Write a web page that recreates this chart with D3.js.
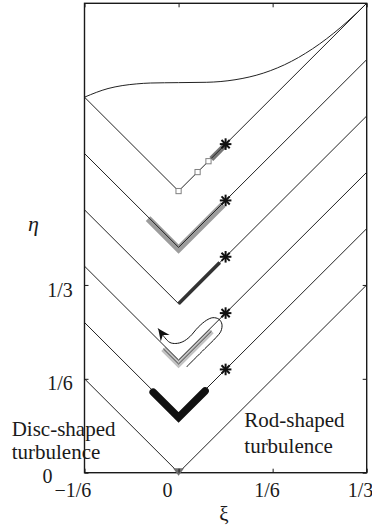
<!DOCTYPE html>
<html><head><meta charset="utf-8">
<script src="https://cdn.jsdelivr.net/npm/d3@7"></script>
<style>
body{margin:0;background:#fff}
text{font-family:"Liberation Serif","Times New Roman",serif;fill:#1a1a1a}
</style>
</head><body>
<svg id="c" width="372" height="530"></svg>
<script>
// ---------------- data ----------------
const xTickValues = [-1/6, 0, 1/6, 1/3];
const xTickLabels = ["\u22121/6", "0", "1/6", "1/3"];
const yTickValues = [0, 1/6, 1/3];
const yTickLabels = ["0", "1/6", "1/3"];

// vertical shift of each stacked anisotropy-invariant map
const panelOffsets = [0, 0.1, 0.2, 0.3, 0.4, 0.5];

// two-component limit (top boundary of the base map), xi / eta
const limitXi  = [-1/6, -0.125, -0.1, -0.075, -0.05, 0, 0.05, 0.1, 0.15, 0.2, 0.25, 0.3, 1/3];
const limitEta = [0.1667, 0.1820, 0.1872, 0.1902, 0.1918, 0.1925, 0.1931, 0.1976, 0.2093, 0.2303, 0.2613, 0.3017, 0.3333];
const limitPanel = 0.5;

// asterisks (initial states) on the rod-shaped branch
const asteriskPanels = [0.1, 0.2, 0.3, 0.4, 0.5];
const asteriskXi = [1/12, 1/12, 1/12, 1/12, 1/12];

// panel 0.5: open squares and dark grey band
const squarePanel = 0.5;
const squareXi = [0, 0.0337, 0.053];
const darkBandPanel = 0.5;
const darkBandXi = [0.058, 0.083];

// panel 0.4: grey band around the V
const greyBandPanel = 0.4;
const greyBandXi = [-0.054, 0.079];

// panel 0.3: dark line along rod branch
const darkLinePanel = 0.3;
const darkLineXi = [0, 0.073];

// panel 0.2: light band + trajectory with loop (absolute xi, eta)
const lightBandPanel = 0.2;
const lightBandXi = [-0.027, 0.0585];
const loopXi  = [0.0142, 0.0466, 0.0661, 0.0750, 0.0768, 0.0715, 0.0608, 0.0496, 0.0348, 0.0200, 0.0076, -0.0048, -0.0154, -0.0243, -0.0362];
const loopEta = [0.1879, 0.2202, 0.2397, 0.2512, 0.2637, 0.2725, 0.2752, 0.2707, 0.2583, 0.2415, 0.2326, 0.2294, 0.2312, 0.2397, 0.2560];

// panel 0.1: black band
const blackBandPanel = 0.1;
const blackBandXi = [-0.045, 0.047];

// panel 0: marker at the isotropic vertex
const originXi = [0];
const originEta = [0];

// ---------------- drawing ----------------
const svg = d3.select("#c");
const x = d3.scaleLinear().domain([-1/6, 1/3]).range([84.5, 366.7]);
const y = d3.scaleLinear().domain([0, 5/6]).range([472.7, 3.3]);
const line = d3.line().x(d => x(d[0])).y(d => y(d[1]));

// V segment along a panel, from xi a to xi b, shifted by s
function seg(o, a, b, s) {
  const pts = [[a, Math.abs(a) + o + s]];
  if (a < 0 && b > 0) pts.push([0, o + s]);
  pts.push([b, Math.abs(b) + o + s]);
  return pts;
}

// bands below lines
svg.append("path").attr("d", line(seg(greyBandPanel, greyBandXi[0], greyBandXi[1], -0.003)))
  .attr("fill", "none").attr("stroke", "#9c9c9c").attr("stroke-width", 6.5).attr("stroke-linejoin", "miter");
svg.append("path").attr("d", line(seg(lightBandPanel, lightBandXi[0], lightBandXi[1], -0.007)))
  .attr("fill", "none").attr("stroke", "#c2c2c2").attr("stroke-width", 6).attr("stroke-linejoin", "miter");
svg.append("path").attr("d", line(seg(darkBandPanel, darkBandXi[0], darkBandXi[1], -0.001)))
  .attr("fill", "none").attr("stroke", "#777").attr("stroke-width", 5.5);

// triangle (V) lines
panelOffsets.forEach(o => {
  svg.append("path").attr("d", line([[-1/6, o + 1/6], [0, o], [1/3, o + 1/3]]))
    .attr("fill", "none").attr("stroke", "#222").attr("stroke-width", 1);
});
// top boundary curve
svg.append("path")
  .attr("d", d3.line().x(d => x(d[0])).y(d => y(d[1])).curve(d3.curveMonotoneX)(limitXi.map((v, i) => [v, limitEta[i] + limitPanel])))
  .attr("fill", "none").attr("stroke", "#222").attr("stroke-width", 1);

// thin data line in light band
svg.append("path").attr("d", line(seg(lightBandPanel, lightBandXi[0], lightBandXi[1], -0.007)))
  .attr("fill", "none").attr("stroke", "#333").attr("stroke-width", 0.9);

// dark line on panel 0.3
svg.append("path").attr("d", line(seg(darkLinePanel, darkLineXi[0], darkLineXi[1], 0)))
  .attr("fill", "none").attr("stroke", "#333").attr("stroke-width", 3.6);

// black band on panel 0.1
svg.append("path").attr("d", line(seg(blackBandPanel, blackBandXi[0], blackBandXi[1], -0.002)))
  .attr("fill", "none").attr("stroke", "#111").attr("stroke-width", 7.5)
  .attr("stroke-linecap", "round").attr("stroke-linejoin", "miter");

// trajectory loop with arrow
const loopPts = loopXi.map((v, i) => [v, loopEta[i]]);
svg.append("path")
  .attr("d", d3.line().x(d => x(d[0])).y(d => y(d[1])).curve(d3.curveCatmullRom.alpha(0.5))(loopPts))
  .attr("fill", "none").attr("stroke", "#111").attr("stroke-width", 1);
{
  const n = loopPts.length;
  const p1 = [x(loopPts[n - 2][0]), y(loopPts[n - 2][1])];
  const p2 = [x(loopPts[n - 1][0]), y(loopPts[n - 1][1])];
  const ang = Math.atan2(p2[1] - p1[1], p2[0] - p1[0]) * 180 / Math.PI;
  svg.append("path")
    .attr("d", "M0,0L-12,-5.5L-8,0L-12,5.5Z")
    .attr("transform", `translate(${p2[0]},${p2[1]}) rotate(${ang})`)
    .attr("fill", "#111");
}

// open squares
svg.selectAll(".sq").data(squareXi).enter().append("rect")
  .attr("x", d => x(d) - 2.6).attr("y", d => y(d + squarePanel) - 2.6)
  .attr("width", 5.2).attr("height", 5.2)
  .attr("fill", "#fff").attr("stroke", "#808080").attr("stroke-width", 1);

// asterisks
asteriskPanels.forEach((o, i) => {
  const cx = x(asteriskXi[i]), cy = y(asteriskXi[i] + o);
  const g = svg.append("g").attr("transform", `translate(${cx},${cy})`);
  const r = 5.8;
  [0, 45, 90, 135].forEach(a => {
    const rad = a * Math.PI / 180;
    g.append("line")
      .attr("x1", -r * Math.cos(rad)).attr("y1", -r * Math.sin(rad))
      .attr("x2", r * Math.cos(rad)).attr("y2", r * Math.sin(rad))
      .attr("stroke", "#111").attr("stroke-width", 2);
  });
});

// frame
svg.append("rect")
  .attr("x", x(-1/6)).attr("y", y(5/6))
  .attr("width", x(1/3) - x(-1/6)).attr("height", y(0) - y(5/6))
  .attr("fill", "none").attr("stroke", "#1a1a1a").attr("stroke-width", 1.4);

// origin marker
svg.selectAll(".om").data(originXi).enter().append("path")
  .attr("d", "M-5.5,-4L5.5,-4L0,3.5Z")
  .attr("transform", (d, i) => `translate(${x(d)},${y(originEta[i]) - 0.5})`)
  .attr("fill", "#6e6e6e");

// axes
const fs = 20;
const xb = svg.append("g").attr("transform", `translate(0,${y(0)})`)
  .call(d3.axisBottom(x).tickValues(xTickValues).tickSizeInner(-4).tickSizeOuter(0)
    .tickPadding(10.6).tickFormat((d, i) => xTickLabels[i]));
xb.select(".domain").remove();
xb.attr("color", "#1a1a1a");
const xDx = [-12.2, -11.7, -6.2, -6.7];
xb.selectAll("text").attr("font-size", fs).attr("font-family", "Liberation Serif")
  .attr("dx", (d, i) => xDx[i]);

const xt = svg.append("g").attr("transform", `translate(0,${y(5/6)})`)
  .call(d3.axisTop(x).tickValues(xTickValues).tickSizeInner(-4).tickSizeOuter(0).tickFormat(""));
xt.select(".domain").remove(); xt.attr("color", "#1a1a1a");

const yl = svg.append("g").attr("transform", `translate(${x(-1/6)},0)`)
  .call(d3.axisLeft(y).tickValues(yTickValues).tickSizeInner(-4).tickSizeOuter(0)
    .tickPadding(0).tickFormat((d, i) => yTickLabels[i]));
yl.select(".domain").remove(); yl.attr("color", "#1a1a1a");
const yPad = [32, 11.8, 11.8];
const yDy = [10, 10.6, 12];
yl.selectAll("text").attr("font-size", fs).attr("font-family", "Liberation Serif")
  .attr("x", (d, i) => -yPad[i]).attr("dy", (d, i) => yDy[i]);

const yr = svg.append("g").attr("transform", `translate(${x(1/3)},0)`)
  .call(d3.axisRight(y).tickValues(yTickValues).tickSizeInner(-4).tickSizeOuter(0).tickFormat(""));
yr.select(".domain").remove(); yr.attr("color", "#1a1a1a");

// axis titles
svg.append("text").attr("x", 224).attr("y", 521).attr("text-anchor", "middle")
  .attr("font-size", 21).text("\u03be");
svg.append("text").attr("x", 33.5).attr("y", 231).attr("text-anchor", "middle")
  .attr("font-size", 22).attr("font-style", "italic").text("\u03b7");

// annotations
const ann = svg.append("g").attr("font-size", 21);
ann.append("text").attr("x", 11.7).attr("y", 436).text("Disc-shaped");
ann.append("text").attr("x", 11.7).attr("y", 459.3).text("turbulence");
ann.append("text").attr("x", 244.3).attr("y", 426.7).text("Rod-shaped");
ann.append("text").attr("x", 244.3).attr("y", 452.5).text("turbulence");
</script>
</body></html>
